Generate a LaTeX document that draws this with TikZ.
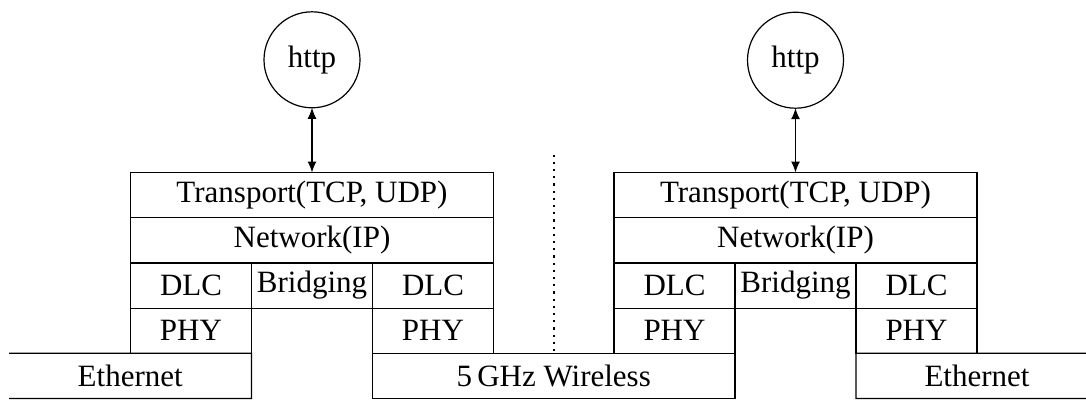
\documentclass[tikz,border=0pt]{standalone}
\usepackage{fontspec}
\setmainfont{Liberation Serif}
\usetikzlibrary{arrows.meta}
\begin{document}
\begin{tikzpicture}[x=1pt, y=-1pt, line width=1.2pt,
  txt/.style={font=\fontsize{31}{36}\selectfont},
  cell/.style={txt, draw, inner sep=0pt, outer sep=0pt,
               minimum width=121pt, minimum height=45.2pt},
  widecell/.style={cell, minimum width=363pt},
  proto/.style={txt, draw, circle, inner sep=0pt, outer sep=0pt,
                minimum size=96pt},
  link/.style={{Latex[length=11pt,width=9pt]}-{Latex[length=11pt,width=9pt]}},
  divider/.style={line width=2.2pt, dash pattern=on 2.2pt off 5pt}]
\useasboundingbox (0,0) rectangle (1086,400);

% left bridge stack
\node[widecell] (lT) at (312,195.1) {Transport(TCP, UDP)};
\node[widecell] (lN) at (312,240.3) {Network(IP)};
\node[cell] (lD1) at (191,285.5) {DLC};
\node[cell] (lB)  at (312,285.5) {Bridging};
\node[cell] (lD2) at (433,285.5) {DLC};
\node[cell] (lP1) at (191,330.7) {PHY};
\node[cell] (lP2) at (433,330.7) {PHY};

% right bridge stack
\node[widecell] (rT) at (795.5,195.1) {Transport(TCP, UDP)};
\node[widecell] (rN) at (795.5,240.3) {Network(IP)};
\node[cell] (rD1) at (674.5,285.5) {DLC};
\node[cell] (rB)  at (795.5,285.5) {Bridging};
\node[cell] (rD2) at (916.5,285.5) {DLC};
\node[cell] (rP1) at (674.5,330.7) {PHY};
\node[cell] (rP2) at (916.5,330.7) {PHY};

% media
\node[cell, minimum width=362.5pt] (wl) at (553.75,375.9) {5\,GHz Wireless};
\node[txt] (ethL) at (130.25,375.9) {Ethernet};
\node[txt] (ethR) at (977,375.9) {Ethernet};
\coordinate (eLa) at (9,353.3);
\coordinate (eLb) at (9,398.5);
\coordinate (eRa) at (1090,353.3);
\coordinate (eRb) at (1090,398.5);
\draw (eLa) -- (lP1.south east) -- (lP1.south east |- eLb) -- (eLb);
\draw (eRa) -- (rP2.south west) -- (rP2.south west |- eRb) -- (eRb);

% applications
\node[proto] (hL) at (312,59.8) {http};
\node[proto] (hR) at (795.5,60.2) {http};
\draw[link] (hL) -- (lT);
\draw[link] (hR) -- (rT);

% separator between the two bridges
\coordinate (sepTop) at (553.7,154.5);
\draw[divider] (sepTop) -- (sepTop |- wl.north);
\end{tikzpicture}
\end{document}
